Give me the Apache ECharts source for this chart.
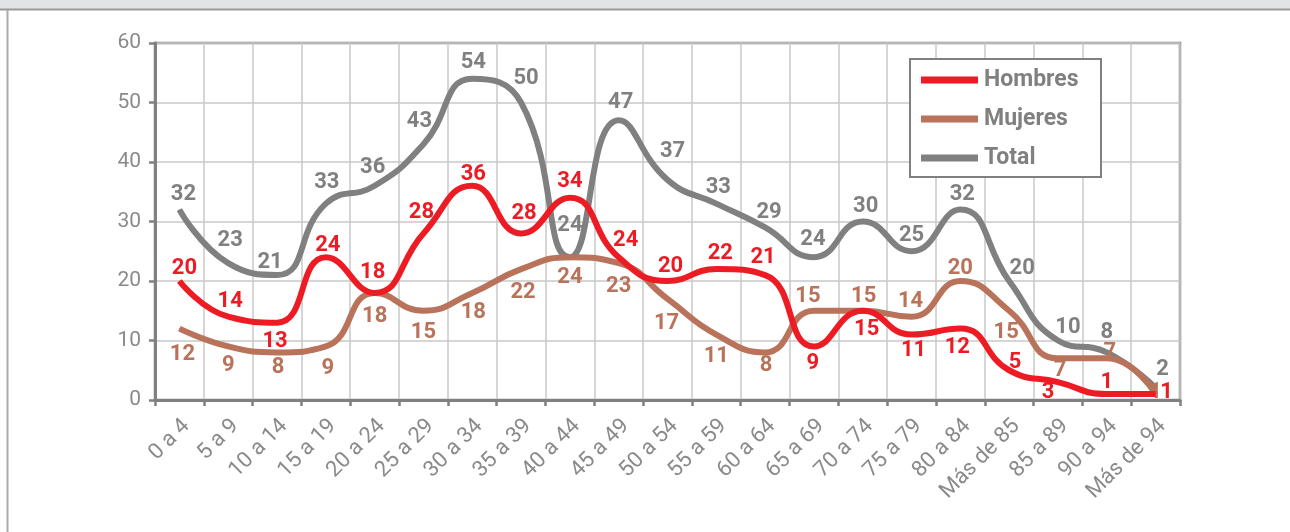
<!DOCTYPE html>
<html>
<head>
<meta charset="utf-8">
<script src="https://cdn.jsdelivr.net/npm/echarts@6/dist/echarts.min.js"></script>
<style>html,body{margin:0;padding:0;background:#fff;}#c{width:1290px;height:532px;}</style>
</head>
<body>
<div id="c"></div>
<script>
const categories = ["0 a 4","5 a 9","10 a 14","15 a 19","20 a 24","25 a 29","30 a 34","35 a 39","40 a 44","45 a 49","50 a 54","55 a 59","60 a 64","65 a 69","70 a 74","75 a 79","80 a 84","Más de 85","85 a 89","90 a 94","Más de 94"];
const hombres = [20,14,13,24,18,28,36,28,34,24,20,22,21,9,15,11,12,5,3,1,1];
const mujeres = [12,9,8,9,18,15,18,22,24,23,17,11,8,15,15,14,20,15,7,7,1];
const total   = [32,23,21,33,36,43,54,50,24,47,37,33,29,24,30,25,32,20,10,8,2];
const yTicks = [0,10,20,30,40,50,60];

// label offsets (style only): [dx, dy] of label centre from its point
const hOff = [[5,-13],[2,-15],[-2,19],[2,-12],[-2,-20],[-2,-21],[1,-11],[3,-20],[0,-16],[7,-17],[3,-15],[4,-16],[-2,-18],[-1,17],[4,19],[2,16],[-3,19],[6,-8],[-10,10],[0,-12],[11,-2]];
const mOff = [[3,26],[0,19],[1,15],[2,22],[0,24],[0,22],[1,20],[2,23],[0,20],[0,23],[-1,25],[0,22],[1,13],[-6,-14],[1,-14],[-1,-15],[0,-13],[-3,22],[2,12],[3,-6],[0,-2]];
const tOff = [[4,-15],[2,-23],[-7,-13],[1,-21],[-2,-18],[-4,-23],[1,-16],[5,-24],[0,-32],[2,-18],[5,-28],[2,-16],[4,-15],[-1,-18],[3,-15],[0,-16],[2,-15],[13,-13],[10,-13],[0,-20],[7,-19]];

const RED = '#ed1c24', BROWN = '#b9735a', GRAY = '#808080';
const FONT = 'Roboto, "Noto Sans", sans-serif';

function series(name, vals, offs, color, z) {
  return {
    name: name, type: 'line', smooth: 0.5, z: z,
    data: vals,
    symbol: 'circle', symbolSize: 1,
    itemStyle: { color: color },
    lineStyle: { color: color, width: 6 },
    label: {
      show: true, position: 'inside', color: color,
      fontFamily: FONT, fontWeight: 'bold', fontSize: 22,
      align: 'center', verticalAlign: 'middle'
    },
    labelLayout: function (p) {
      const o = offs[p.dataIndex];
      return { dx: o[0], dy: o[1], hideOverlap: false };
    },
    emphasis: { disabled: true },
    animation: false
  };
}

const chart = echarts.init(document.getElementById('c'), null, { renderer: 'canvas' });
chart.setOption({
  animation: false,
  backgroundColor: '#ffffff',
  graphic: [
    { type: 'rect', shape: { x: 0, y: 0, width: 1290, height: 9 }, style: { fill: '#e2e3e5' }, z: 0 },
    { type: 'line', shape: { x1: 0, y1: 9.5, x2: 1290, y2: 9.5 }, style: { stroke: '#9a9a9a', lineWidth: 2 }, z: 1 },
    { type: 'line', shape: { x1: 7.5, y1: 10, x2: 7.5, y2: 532 }, style: { stroke: '#aaaaaa', lineWidth: 2 }, z: 1 },
    { type: 'rect', shape: { x: 910, y: 59, width: 191, height: 118 }, style: { fill: '#ffffff', stroke: '#808080', lineWidth: 2 }, z: 50 }
  ],
  grid: { left: 155, right: 110, top: 43, bottom: 132, show: true, borderColor: GRAY, borderWidth: 2.5, containLabel: false },
  legend: {
    orient: 'vertical', left: 916, top: 63, z: 60,
    data: ['Hombres', 'Mujeres', 'Total'],
    icon: 'rect', itemWidth: 57, itemHeight: 7, itemGap: 15,
    textStyle: { fontFamily: FONT, fontWeight: 'bold', fontSize: 23, lineHeight: 24, color: GRAY, padding: [0,0,0,1] }
  },
  xAxis: {
    type: 'category', data: categories, boundaryGap: true,
    axisLine: { lineStyle: { color: GRAY, width: 3 } },
    axisTick: { show: true, length: 6, lineStyle: { color: GRAY, width: 2.5 } },
    splitLine: { show: true, interval: 0, lineStyle: { color: '#c8c8c8', width: 1.5 } },
    axisLabel: { interval: 0, rotate: 45, margin: 30, color: '#8a8a8a', fontFamily: FONT, fontSize: 22, padding: [0, -10, 0, 0] }
  },
  yAxis: {
    type: 'value', min: yTicks[0], max: yTicks[yTicks.length - 1], interval: 10,
    axisLine: { show: true, lineStyle: { color: GRAY, width: 3 } },
    axisTick: { show: true, length: 6, lineStyle: { color: GRAY, width: 2.5 } },
    splitLine: { show: true, lineStyle: { color: '#c8c8c8', width: 1.5 } },
    axisLabel: { margin: 14, color: '#8a8a8a', fontFamily: FONT, fontSize: 21 }
  },
  series: [
    series('Total', total, tOff, GRAY, 2),
    series('Mujeres', mujeres, mOff, BROWN, 3),
    series('Hombres', hombres, hOff, RED, 4)
  ]
});
</script>
</body>
</html>
